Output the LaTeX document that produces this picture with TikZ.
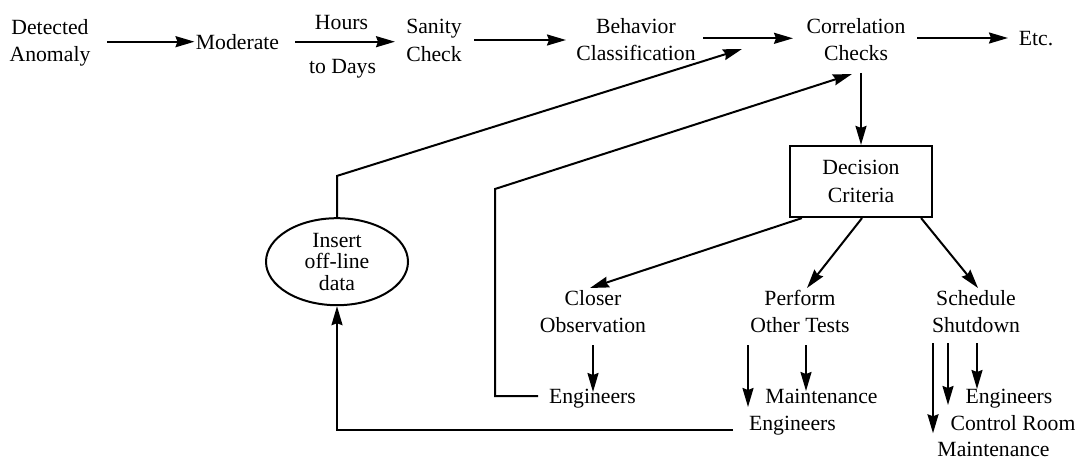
\documentclass[tikz,border=0pt]{standalone}
\usepackage{fontspec}
\setmainfont{Liberation Serif}
\usetikzlibrary{arrows.meta,shapes.geometric,calc}
\begin{document}
\begin{tikzpicture}[x=1pt,y=-1pt,
  lbl/.style={font=\fontsize{21.7}{27.3}\selectfont, align=center, inner sep=0pt},
  decbox/.style={lbl, draw, line width=2.2pt, minimum width=142pt, minimum height=71pt},
  oval/.style={ellipse, draw, line width=2pt, minimum width=142pt, minimum height=87pt, inner sep=0pt, align=center, font=\fontsize{21.7}{21.5}\selectfont},
  arr/.style={line width=2pt, -{Stealth[length=19pt,width=11pt,inset=2pt]}},
  ln/.style={line width=2pt}]
\useasboundingbox (0,0) rectangle (1081,460);
% nodes
\node[lbl] (det) at (50,42.9) {Detected\\Anomaly};
\node[lbl] (mod) at (237.5,41.9) {Moderate};
\node[lbl] (hrs) at (341.5,22.1) {Hours};
\node[lbl] (tdays) at (342.5,68.4) {to Days};
\node[lbl] (san) at (434,40.5) {Sanity\\Check};
\node[lbl] (beh) at (636,39.6) {Behavior\\Classification};
\node[lbl] (cor) at (856,39.6) {Correlation\\Checks};
\node[lbl] (etc) at (1036,38.5) {Etc.};
\node[decbox] (dec) at (861,181.5) {Decision\\Criteria};
\node[oval] (ins) at (337,261.7) {Insert\\off-line\\data};
\node[lbl] (closer) at (593,311.3) {Closer\\Observation};
\node[lbl] (perf) at (800,311.3) {Perform\\Other Tests};
\node[lbl] (sched) at (976,311.3) {Schedule\\Shutdown};
\node[lbl] (eng1) at (592.5,398.5) {Engineers};
\node[lbl] (maint1) at (821.5,396) {Maintenance};
\node[lbl] (eng2) at (792.5,425.2) {Engineers};
\node[lbl] (eng3) at (1009,398.5) {Engineers};
\node[lbl] (ctrl) at (1013,422.6) {Control Room};
\node[lbl] (maint2) at (993.5,449.5) {Maintenance};
% top row
\draw[arr] ($(det)+(57,-1.2)$) -- ($(mod)+(-43,-0.2)$);
\draw[arr] ($(mod)+(57.5,-0.2)$) -- ($(san)+(-39,1.2)$);
\draw[arr] ($(san)+(40,-0.5)$) -- ($(beh)+(-70,0.4)$);
\draw[arr] ($(beh)+(67,-1.3)$) -- ($(cor)+(-63,-1.3)$);
\draw[arr] ($(cor)+(61,-1.6)$) -- ($(etc)+(-28,-0.5)$);
\draw[arr] ($(dec.north)+(0,-72)$) -- (dec.north);
% feedback lines
\draw[arr] (ins.north) -- ($(ins.north)+(0,-41.3)$) -- ($(cor)+(-114,9.4)$);
\draw[arr] ($(eng1)+(-54.5,-2.5)$) -- ++(-43,0) -- ++(0,-207) -- ($(cor)+(-4,34.4)$);
\draw[arr] ($(eng2)+(-59.5,4.8)$) -| (ins.south);
% decision arrows
\draw[arr] ($(dec.south west)+(13,0)$) -- ($(closer)+(-3,-23.3)$);
\draw[arr] ($(dec.south)+(1,0)$) -- ($(perf)+(7,-23.3)$);
\draw[arr] ($(dec.south east)+(-12,0)$) -- ($(sched)+(2,-23.3)$);
% lower arrows
\draw[arr] ($(closer)+(0,33.7)$) -- ($(eng1)+(0.5,-6.5)$);
\draw[arr] ($(perf)+(-52,33.7)$) -- ($(eng2)+(-44.5,-18.2)$);
\draw[arr] ($(perf)+(6,33.7)$) -- ($(maint1)+(-15.5,-5)$);
\draw[arr] ($(sched)+(-43,32)$) -- ($(maint2)+(-60.5,-16.2)$);
\draw[arr] ($(sched)+(-28,32)$) -- ($(ctrl)+(-65,-17.6)$);
\draw[arr] ($(sched)+(1,32)$) -- ($(eng3)+(-32,-9.5)$);
\end{tikzpicture}
\end{document}
